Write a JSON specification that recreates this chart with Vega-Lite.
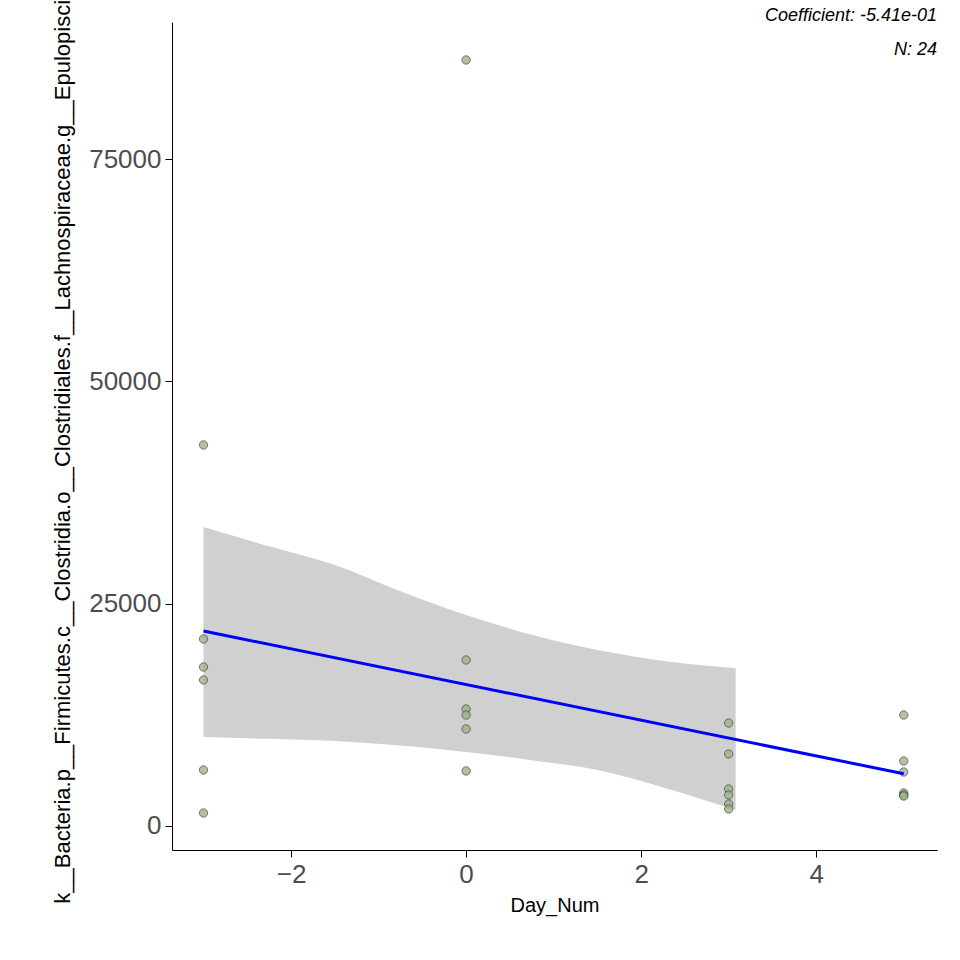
{
  "$schema": "https://vega.github.io/schema/vega-lite/v6.json",
  "autosize": "none",
  "width": 765,
  "height": 828,
  "padding": {"left": 172, "top": 22, "right": 23, "bottom": 110},
  "background": "white",
  "config": {"view": {"stroke": null}, "font": "Liberation Sans"},
  "title": {
    "text": ["FDR: 1.655e-01", "Coefficient: -5.41e-01", "N: 24"],
    "anchor": "end",
    "fontSize": 18,
    "fontWeight": "normal",
    "fontStyle": "italic",
    "color": "black",
    "lineHeight": 34,
    "baseline": "top",
    "offset": -2,
    "dy": 88
  },
  "datasets": {
    "pts": [
      {"day": -3, "val": 42850}, {"day": -3, "val": 21030}, {"day": -3, "val": 17880},
      {"day": -3, "val": 16420}, {"day": -3, "val": 6300}, {"day": -3, "val": 1460},
      {"day": 0, "val": 86150}, {"day": 0, "val": 18670}, {"day": 0, "val": 13160},
      {"day": 0, "val": 12480}, {"day": 0, "val": 10910}, {"day": 0, "val": 6190},
      {"day": 3, "val": 11580}, {"day": 3, "val": 8100}, {"day": 3, "val": 4160},
      {"day": 3, "val": 3490}, {"day": 3, "val": 2470}, {"day": 3, "val": 1910},
      {"day": 5, "val": 12480}, {"day": 5, "val": 7310}, {"day": 5, "val": 6070},
      {"day": 5, "val": 3710}, {"day": 5, "val": 3490}, {"day": 5, "val": 3370}
    ],
    "band": [
      {"day": -3, "lo": 10010, "hi": 33620},
      {"day": -2.25, "lo": 9800, "hi": 31450},
      {"day": -1.5, "lo": 9560, "hi": 29350},
      {"day": -0.75, "lo": 9050, "hi": 26400},
      {"day": 0, "lo": 8320, "hi": 23730},
      {"day": 0.75, "lo": 7400, "hi": 21500},
      {"day": 1.5, "lo": 6300, "hi": 19790},
      {"day": 2.3, "lo": 4200, "hi": 18500},
      {"day": 3.08, "lo": 1800, "hi": 17770}
    ]
  },
  "layer": [
    {
      "data": {"name": "band"},
      "mark": {"type": "area", "color": "#bebebe", "opacity": 0.72, "interpolate": "monotone"},
      "encoding": {
        "x": {"field": "day", "type": "quantitative"},
        "y": {"field": "lo", "type": "quantitative"},
        "y2": {"field": "hi"}
      }
    },
    {
      "data": {"name": "pts"},
      "mark": {"type": "point", "filled": true, "size": 70, "fill": "#9db38a", "stroke": "#333333", "strokeWidth": 0.8, "opacity": 0.8},
      "encoding": {
        "x": {
          "field": "day", "type": "quantitative", "title": "Day_Num",
          "scale": {"domain": [-3.36, 5.38], "nice": false, "zero": false},
          "axis": {
            "values": [-2, 0, 2, 4], "format": "d", "grid": false, "domainColor": "black", "tickColor": "black",
            "tickSize": 7, "labelFontSize": 26, "labelColor": "#4d4d4d", "labelPadding": 4,
            "titleFontSize": 20, "titleFontWeight": "normal", "titleColor": "black", "titlePadding": 8
          }
        },
        "y": {
          "field": "val", "type": "quantitative",
          "title": "k__Bacteria.p__Firmicutes.c__Clostridia.o__Clostridiales.f__Lachnospiraceae.g__Epulopiscium",
          "scale": {"domain": [-2700, 90420], "nice": false, "zero": false},
          "axis": {
            "values": [0, 25000, 50000, 75000], "format": "d", "grid": false, "domainColor": "black", "tickColor": "black",
            "tickSize": 7, "labelFontSize": 26, "labelColor": "#4d4d4d", "labelPadding": 4,
            "titleFontSize": 22, "titleFontWeight": "normal", "titleColor": "black", "titlePadding": 14
          }
        }
      }
    },
    {
      "data": {"name": "pts"},
      "transform": [{"regression": "val", "on": "day", "extent": [-3, 5]}],
      "mark": {"type": "line", "color": "blue", "strokeWidth": 3},
      "encoding": {
        "x": {"field": "day", "type": "quantitative"},
        "y": {"field": "val", "type": "quantitative"}
      }
    }
  ]
}
